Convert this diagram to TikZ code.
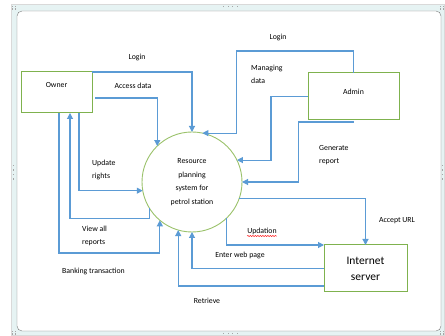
\documentclass[tikz,border=0pt]{standalone}
\usepackage{fontspec}
\setmainfont{Carlito}
\usetikzlibrary{arrows.meta,decorations.pathmorphing}
\definecolor{flowblue}{HTML}{5B9BD5}
\definecolor{boxgreen}{HTML}{7FB24E}
\definecolor{ringgreen}{HTML}{9BC26B}
\definecolor{framefill}{HTML}{E6F3F3}
\definecolor{frameline}{HTML}{7A7A7A}

\begin{document}
\begin{tikzpicture}[x=1pt,y=-1pt,
    flow/.style={draw=flowblue,line width=1.1pt,-{Triangle[width=6pt,length=6pt]}},
    entity/.style={draw=boxgreen,line width=1pt,inner sep=0,outer sep=0},
    process/.style={circle,draw=ringgreen,line width=.9pt,minimum size=100pt,
      inner sep=0,outer sep=0,align=center,font=\fontsize{7.8}{13.7}\selectfont},
    lbl/.style={font=\fontsize{7.8}{13.5}\selectfont,inner sep=0,align=left}]
  \useasboundingbox (0,0) rectangle (445,336);
  % canvas frame
  \draw[gray!30,fill=framefill] (11,4) rectangle (444,335);
  \draw[frameline,fill=white,rounded corners=5pt] (17,11) rectangle (441,331);
  \foreach \hx/\hy in {12/6,12/331,440/6,440/331}
    \foreach \dx/\dy in {0/0,2.5/0,0/2.5,2.5/2.5}
      \fill[gray!70] (\hx+\dx,\hy+\dy) rectangle ++(1.3,1.3);
  \foreach \dd in {0,4.5,9,13.5} {
    \fill[gray!70] (223+\dd,6) rectangle ++(1.3,1.3);
    \fill[gray!70] (223+\dd,333) rectangle ++(1.3,1.3);
    \fill[gray!70] (13,165+\dd) rectangle ++(1.3,1.3);
    \fill[gray!70] (442,165+\dd) rectangle ++(1.3,1.3);
  }

  % entities and process
  \node[entity,minimum width=71pt,minimum height=41pt,
    label={[lbl,anchor=north,yshift=-10.5pt]north:Owner}] (owner) at (56.5,92.5) {};
  \node[entity,minimum width=91pt,minimum height=47pt,
    label={[lbl,anchor=north,yshift=-15.5pt]north:Admin}] (admin) at (353.5,96.5) {};
  \node[entity,minimum width=83pt,minimum height=47pt,align=center,
    font=\fontsize{11.5}{16}\selectfont] (inet) at (365.5,268.5) {Internet\\server};
  \node[process] (rps) at (192,182) {Resource\\planning\\system for\\petrol station};

  % owner flows
  \draw[flow] (owner.north east) -| (rps.north);
  \draw[flow] ([shift={(3,5.5)}]owner.east) -| (rps.134);
  \draw[flow] (owner.south -| 79,0) |- (rps.190);
  \draw[flow] (rps.211) -- ++(0,11) -| (owner.south -| 70,0);
  \draw[flow] (owner.south -| 59,0) -- ++(0,140) -| (rps.230);

  % admin flows
  \draw[flow] (admin.north) -- ++(0,-22) -- ++(-117,0) |- (rps.78);
  \draw[flow] (admin.west) -- ++(-37,0) |- (rps.26);
  \draw[flow] ([yshift=-2pt]admin.south) -- ++(-55,0) |- (rps.east);

  % internet server flows
  \draw[flow] (rps.341) -| (inet.north);
  \draw[flow] (rps.314) |- (inet.north west);
  \draw[flow] (inet.west) -| (rps.south);
  \draw[flow] ([yshift=6pt]inet.south west) -| (rps.254);

  % flow labels
  \node[lbl] (tLoginA) at (137,57) {Login};
  \node[lbl] (tAccess) at (133,86) {Access data};
  \node[lbl,anchor=west] (tRights) at (92,170) {Update\\rights};
  \node[lbl,anchor=west] (tView) at (82,236) {View all\\reports};
  \node[lbl] (tBank) at (93.5,271) {Banking transaction};
  \node[lbl] (tLoginB) at (278,37) {Login};
  \node[lbl,anchor=west] (tManage) at (251,74.5) {Managing\\data};
  \node[lbl,anchor=west] (tReport) at (319,155) {Generate\\report};
  \node[lbl] (tURL) at (397,221) {Accept URL};
  \node[lbl] (tUpd) at (262,231) {Updation};
  \node[lbl] (tEnter) at (240,255) {Enter web page};
  \node[lbl] (tRetrieve) at (207,301) {Retrieve};
  \draw[red!85,line width=.5pt,decorate,decoration={snake,amplitude=.6pt,segment length=2.5pt}]
    ([yshift=-1.5pt]tUpd.south west) -- ([yshift=-1.5pt]tUpd.south east);
\end{tikzpicture}
\end{document}
